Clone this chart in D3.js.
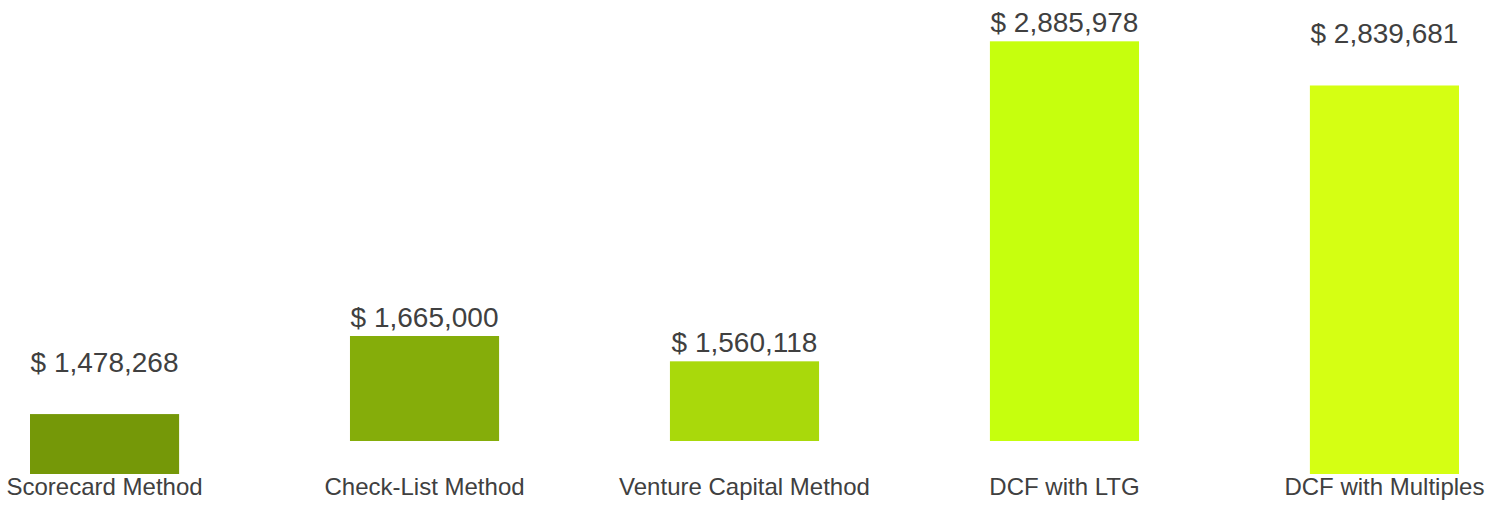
<!DOCTYPE html>
<html>
<head>
<meta charset="utf-8">
<script src="https://cdn.jsdelivr.net/npm/d3@7"></script>
<style>
  body { margin: 0; background: #fff; }
  text { font-family: Arial, "Liberation Sans", sans-serif; fill: #404040; }
</style>
</head>
<body>
<div id="chart"></div>
<script>
const methods = ["Scorecard Method", "Check-List Method", "Venture Capital Method", "DCF with LTG", "DCF with Multiples"];
const values = [1478268, 1665000, 1560118, 2885978, 2839681];
// two of the bars sit lower in the original picture
const dropped = [true, false, false, false, true];
const colors = ["#759808", "#85ad0a", "#a9d90b", "#c6ff0d", "#d5ff13"];

const width = 1502, height = 507;
const dropPx = 33;

const svg = d3.select("#chart")
  .append("svg")
  .attr("width", width)
  .attr("height", height);

const data = methods.map((m, i) => ({ method: m, value: values[i], dropped: dropped[i], color: colors[i] }));

const xScale = d3.scaleBand()
  .domain(methods)
  .range([30, 1459])
  .paddingInner(0.534)
  .paddingOuter(0);

const yScale = d3.scaleLinear()
  .domain([1230000, 3000000])
  .range([441, 13.8]);

const fmt = d3.format(",");

const bar = svg.selectAll("g.bar")
  .data(data)
  .join("g")
  .attr("class", "bar")
  .attr("transform", d => `translate(${xScale(d.method)}, 0)`);

bar.append("rect")
  .attr("x", 0)
  .attr("y", d => yScale(d.value) + (d.dropped ? dropPx : 0))
  .attr("width", xScale.bandwidth())
  .attr("height", d => yScale.range()[0] - yScale(d.value))
  .attr("fill", d => d.color);

bar.append("text")
  .text(d => `$ ${fmt(d.value)}`)
  .attr("x", xScale.bandwidth() / 2)
  .attr("y", d => yScale(d.value) - 9)
  .attr("text-anchor", "middle")
  .style("font-size", "28px");

bar.append("text")
  .text(d => d.method)
  .attr("x", xScale.bandwidth() / 2)
  .attr("y", 495)
  .attr("text-anchor", "middle")
  .style("font-size", "24px");
</script>
</body>
</html>
